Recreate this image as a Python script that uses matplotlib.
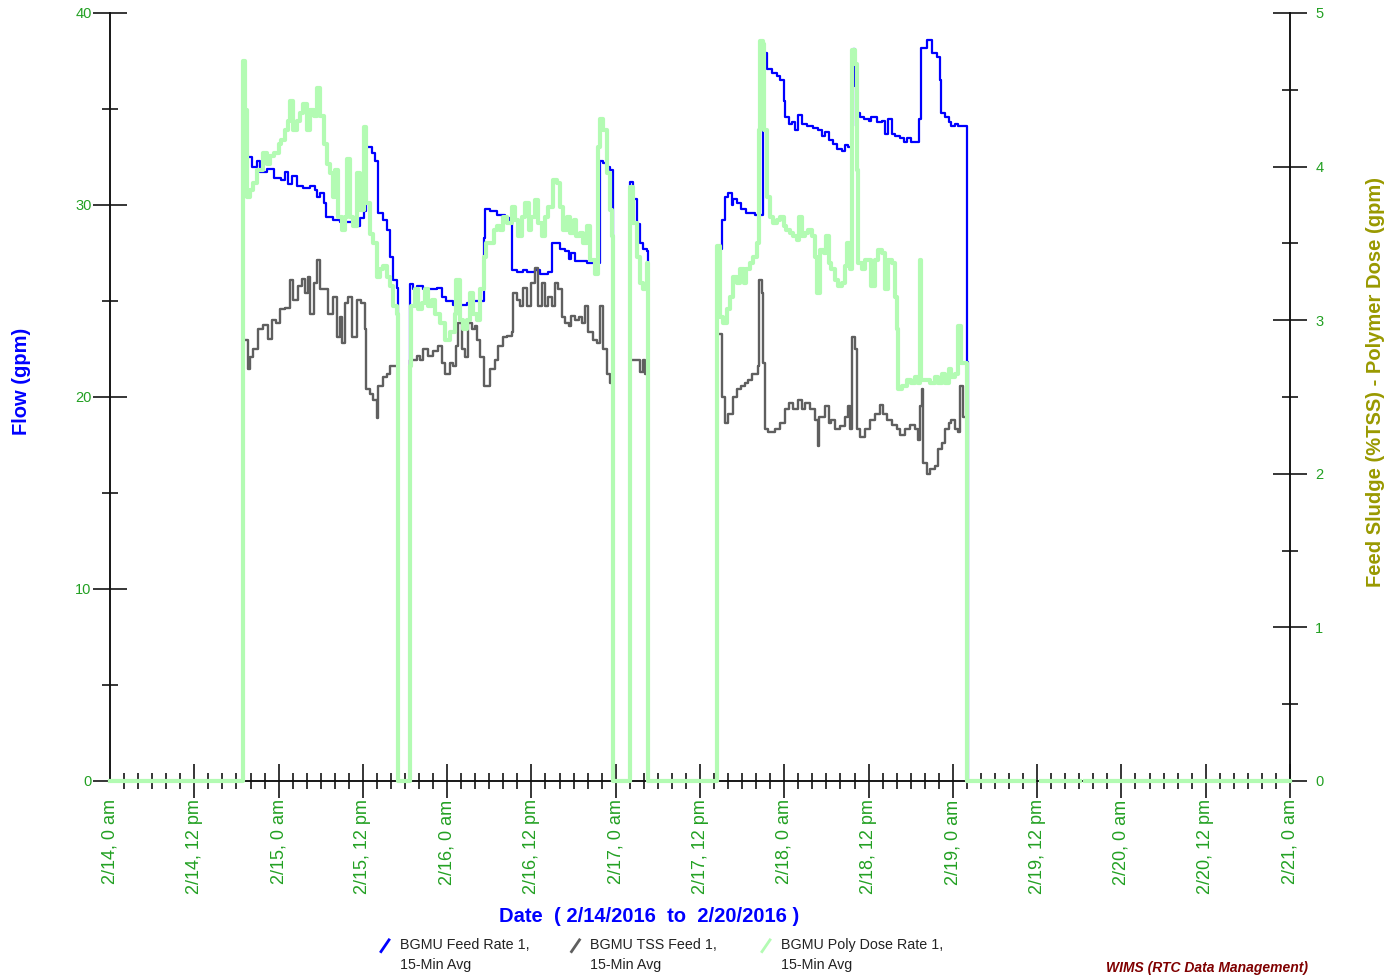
import matplotlib
matplotlib.use('Agg')
import matplotlib.pyplot as plt
from matplotlib.lines import Line2D
from matplotlib.ticker import MultipleLocator, FixedLocator

plt.rcParams['font.family'] = ['Liberation Sans', 'DejaVu Sans']

# time axis: hours since 2/14/2016 0:00 am
# BGMU Feed Rate 1 (gpm, left axis)
feed_t = [0, 19.0, 19.5, 20.2, 20.9, 21.4, 22.3, 23.3, 24.4, 24.9, 25.4, 25.9, 26.6, 27.5, 28.5,
          29.2, 29.4, 29.9, 30.4, 30.8, 31.8, 32.7, 33.7, 34.6, 35.6, 36.1, 36.5, 37.3, 37.7, 38.2,
          38.9, 39.4, 39.9, 40.3, 40.8, 41.0,
          42.7, 43.2, 43.7, 44.6, 45.6, 46.5, 47.2, 47.9, 48.9, 50.8, 51.7, 53.2, 53.4, 54.1, 55.1,
          56.2, 56.9, 57.2, 57.9, 58.8, 59.3, 60.5, 61.2, 62.4, 62.9, 63.6, 64.1, 64.8, 65.3, 65.7,
          66.2, 66.9, 67.9, 69.8, 70.2, 70.7, 71.2, 71.6,
          74.0, 74.5, 75.0, 75.4, 75.9, 76.4, 76.6,
          86.4, 87.1, 87.6, 88.0, 88.5, 88.7, 89.2, 89.9, 90.6, 91.8, 93.0, 93.5, 94.2, 94.9, 95.4,
          95.9, 96.1, 96.6, 97.1, 97.5, 98.0, 98.5, 99.2, 100.1, 100.8, 101.3, 101.8, 102.3, 103.0,
          103.5, 104.2, 104.6, 105.1, 105.6, 105.8, 106.0, 106.3, 106.8, 107.3, 108.0, 108.4, 109.2,
          109.9, 110.3, 110.8, 111.3, 111.8, 112.5, 113.0, 113.4, 114.1, 114.8, 115.2, 115.4, 116.3,
          117.0, 117.7, 118.1, 118.3, 118.9, 119.4, 119.8, 120.3, 120.8, 122.0, 122.1]
feed_v = [0, 32.5, 32.5, 32.0, 32.3, 31.7, 31.9, 31.4, 31.3, 31.7, 31.1, 31.5, 31.0, 30.9, 31.0,
          30.8, 30.4, 30.6, 30.1, 29.4, 29.2, 29.1, 29.1, 28.9, 29.3, 29.7, 33.0, 32.7, 32.3, 29.6,
          29.2, 28.7, 27.3, 26.1, 25.7, 0,
          25.9, 25.6, 25.8, 25.6, 25.6, 25.7, 25.2, 25.0, 24.8, 24.9, 25.0, 28.3, 29.8, 29.7, 29.5,
          29.3, 29.1, 26.6, 26.5, 26.6, 26.5, 26.6, 26.4, 26.5, 28.0, 28.0, 27.7, 27.6, 27.2, 27.5,
          27.1, 27.1, 27.0, 32.3, 32.2, 32.0, 31.8, 0,
          31.2, 30.3, 29.0, 28.0, 27.7, 27.6, 0,
          27.7, 29.2, 30.4, 30.6, 30.0, 30.3, 30.1, 29.8, 29.6, 29.5, 37.9, 37.1, 36.9, 36.7, 36.5,
          35.4, 34.6, 34.2, 34.3, 33.9, 34.7, 34.2, 34.1, 34.0, 33.9, 33.6, 33.8, 33.4, 33.2,
          32.9, 32.8, 33.1, 33.0, 34.1, 38.1, 36.2, 34.8, 34.6, 34.5, 34.4, 34.6, 34.3,
          34.4, 33.7, 34.5, 33.7, 33.6, 33.5, 33.3, 33.5, 33.3, 33.3, 34.5, 38.2, 38.6,
          37.9, 37.7, 36.5, 34.8, 34.6, 34.3, 34.1, 34.2, 34.1, 21.8, 0]

# BGMU TSS Feed 1 (% TSS, right axis)
tss_t = [0, 19.0, 19.7, 19.9, 20.4, 21.1, 21.8, 22.5, 23.0, 23.7, 24.2, 24.9, 25.6, 26.1, 26.8,
         27.3, 27.8, 28.2, 28.5, 29.0, 29.4, 29.9, 31.1, 31.8, 32.3, 32.7, 33.0, 33.5, 33.9, 34.4,
         35.1, 35.8, 36.3, 36.5, 37.0, 37.5, 38.0, 38.2, 38.9, 39.4, 39.9, 41.0,
         42.7, 43.7, 44.1, 44.6, 45.3, 46.0, 46.7, 47.2, 47.7, 48.4, 48.9, 49.3, 49.6, 50.1, 50.5,
         51.0, 51.5, 52.0, 52.2, 52.7, 53.2, 54.1, 54.8, 55.3, 56.0, 56.5, 57.2, 57.4, 57.9, 58.4,
         58.8, 59.3, 60.0, 60.5, 61.0, 61.5, 61.9, 62.4, 62.9, 63.4, 63.8, 64.3, 64.8, 65.3, 65.7,
         66.2, 66.7, 67.2, 67.6, 68.1, 68.8, 69.3, 69.8, 70.2, 70.7, 71.2, 71.6,
         74.0, 75.5, 75.9, 76.2, 76.6,
         86.4, 87.1, 87.6, 88.0, 88.7, 89.2, 89.9, 90.4, 90.9, 91.4, 92.3, 92.4, 92.8, 93.0, 93.3,
         93.7, 94.7, 95.4, 96.1, 96.6, 97.3, 98.0, 98.5, 98.9, 99.7, 100.4, 100.8, 101.0, 101.8,
         102.3, 102.7, 103.2, 103.9, 104.6, 105.1, 105.4, 105.7, 106.1, 106.3, 106.8, 107.5, 108.2,
         108.9, 109.6, 110.1, 110.6, 111.3, 112.0, 112.5, 113.2, 113.9, 114.6, 115.1, 115.3, 115.6,
         115.8, 116.3, 116.7, 117.5, 117.9, 118.4, 118.9, 119.4, 119.8, 120.3, 120.8, 121.0, 121.5,
         122.0]
tss_v = [0, 2.87, 2.68, 2.76, 2.81, 2.94, 2.97, 2.88, 3.00, 2.98, 3.07, 3.08, 3.26, 3.13, 3.22,
         3.27, 3.18, 3.28, 3.04, 3.24, 3.39, 3.20, 3.04, 3.15, 2.89, 3.02, 2.85, 3.11, 3.15, 2.89,
         3.13, 3.11, 2.94, 2.55, 2.52, 2.48, 2.36, 2.57, 2.63, 2.65, 2.70, 0,
         2.74, 2.77, 2.74, 2.81, 2.77, 2.80, 2.83, 2.72, 2.65, 2.72, 2.70, 2.83, 2.98, 2.81, 2.76,
         2.98, 2.94, 2.96, 2.87, 2.76, 2.57, 2.68, 2.74, 2.83, 2.89, 2.90, 2.92, 3.18, 3.13, 3.09,
         3.21, 3.09, 3.24, 3.34, 3.09, 3.24, 3.09, 3.15, 3.09, 3.24, 3.20, 3.02, 2.98, 2.96, 3.03,
         3.00, 3.02, 2.98, 3.09, 2.92, 2.87, 2.85, 3.09, 2.81, 2.65, 2.59, 0,
         2.74, 2.66, 2.74, 2.65, 0,
         2.91, 2.50, 2.33, 2.39, 2.50, 2.55, 2.57, 2.59, 2.61, 2.65, 2.70, 3.26, 3.18, 2.72, 2.29,
         2.27, 2.29, 2.33, 2.42, 2.46, 2.42, 2.48, 2.42, 2.46, 2.42, 2.35, 2.18, 2.37, 2.44,
         2.33, 2.35, 2.29, 2.31, 2.37, 2.44, 2.29, 2.89, 2.81, 2.29, 2.24, 2.29, 2.35,
         2.39, 2.45, 2.39, 2.35, 2.32, 2.29, 2.25, 2.29, 2.32, 2.29, 2.22, 2.44, 2.55,
         2.07, 2.00, 2.03, 2.05, 2.16, 2.20, 2.29, 2.33, 2.35, 2.29, 2.27, 2.57, 2.37,
         0]

# BGMU Poly Dose Rate 1 (gpm, right axis)
poly_t = [0, 19.0, 19.2, 19.5, 19.9, 20.4, 20.9, 21.8, 22.3, 22.8, 23.3, 24.0, 24.4, 24.9, 25.4,
          25.6, 26.1, 26.6, 27.1, 27.5, 28.0, 28.5, 29.0, 29.4, 29.9, 30.4, 30.9, 31.3, 31.8, 32.0,
          32.5, 33.0, 33.5, 33.7, 34.2, 34.6, 35.1, 35.6, 36.1, 36.5, 37.0, 37.5, 38.0, 38.4, 38.9,
          39.4, 39.9, 40.3, 40.8, 41.0,
          42.7, 42.9, 43.4, 43.9, 44.4, 44.8, 45.3, 45.8, 46.3, 47.0, 47.7, 48.4, 49.1, 49.3, 49.8,
          50.3, 50.8, 51.3, 51.7, 52.2, 52.7, 53.2, 53.6, 54.6, 55.1, 55.5, 56.0, 56.5, 57.2, 57.7,
          58.1, 58.6, 59.1, 59.6, 60.0, 60.5, 61.0, 61.5, 61.9, 62.4, 63.1, 63.6, 64.1, 64.5, 65.0,
          65.5, 66.0, 66.4, 66.9, 67.4, 67.9, 68.3, 69.1, 69.5, 69.8, 70.2, 70.7, 71.2, 71.4, 71.6,
          74.0, 74.5, 75.0, 75.5, 75.9, 76.4, 76.6,
          86.4, 86.8, 87.3, 87.8, 88.3, 88.7, 89.2, 89.7, 90.2, 90.6, 91.1, 91.6, 92.1, 92.4, 92.6,
          92.9, 93.1, 93.5, 94.0, 94.4, 94.9, 95.4, 95.9, 96.3, 96.8, 97.3, 97.8, 98.1, 98.5, 98.9,
          99.4, 99.9, 100.4, 100.7, 101.1, 101.6, 101.9, 102.3, 102.7, 103.2, 103.7, 104.2, 104.6,
          104.9, 105.3, 105.6, 105.7, 106.1, 106.3, 106.5, 107.0, 107.5, 108.4, 108.9, 109.4, 109.9,
          110.3, 110.8, 111.3, 111.8, 112.0, 112.2, 112.7, 113.4, 114.1, 114.6, 115.1, 115.3, 115.5,
          116.7, 117.5, 117.9, 118.4, 118.9, 119.4, 119.8, 120.3, 120.8, 121.1, 122.0,
          131.5, 132.6, 138.1, 138.8, 168.0]
poly_v = [0, 4.69, 4.37, 3.80, 3.85, 3.89, 3.98, 4.09, 4.02, 4.07, 4.09, 4.15, 4.17, 4.24, 4.30,
          4.43, 4.24, 4.30, 4.35, 4.41, 4.24, 4.37, 4.33, 4.51, 4.33, 4.15, 4.02, 3.96, 3.80, 3.98,
          3.67, 3.59, 3.67, 4.05, 3.67, 3.61, 3.96, 3.72, 4.26, 3.76, 3.56, 3.50, 3.28, 3.33, 3.35,
          3.28, 3.22, 3.09, 3.04, 0,
          2.70, 3.09, 3.20, 3.07, 3.11, 3.20, 3.09, 3.13, 3.04, 2.98, 2.87, 2.92, 3.04, 3.26, 3.00,
          2.94, 3.00, 3.18, 3.04, 3.00, 3.20, 3.41, 3.50, 3.59, 3.61, 3.59, 3.67, 3.63, 3.74, 3.65,
          3.55, 3.67, 3.76, 3.59, 3.67, 3.78, 3.63, 3.55, 3.67, 3.74, 3.91, 3.89, 3.74, 3.59, 3.67,
          3.57, 3.65, 3.55, 3.57, 3.50, 3.61, 3.39, 3.30, 4.13, 4.31, 4.24, 3.96, 3.72, 3.55, 0,
          3.87, 3.63, 3.41, 3.24, 3.20, 3.37, 0,
          3.48, 3.02, 2.98, 3.07, 3.15, 3.28, 3.24, 3.33, 3.24, 3.33, 3.37, 3.41, 3.50, 4.24, 4.82,
          4.80, 4.24, 3.80, 3.67, 3.63, 3.65, 3.67, 3.61, 3.59, 3.57, 3.55, 3.52, 3.67, 3.55, 3.57,
          3.59, 3.55, 3.41, 3.18, 3.46, 3.44, 3.55, 3.37, 3.33, 3.26, 3.22, 3.24, 3.35,
          3.50, 3.33, 3.98, 4.76, 4.67, 3.98, 3.37, 3.33, 3.39, 3.22, 3.39, 3.46, 3.44,
          3.20, 3.39, 3.37, 3.15, 2.94, 2.55, 2.57, 2.61, 2.59, 2.63, 2.59, 3.39, 2.61,
          2.59, 2.63, 2.59, 2.65, 2.59, 2.68, 2.63, 2.65, 2.96, 2.72, 0,
          float('nan'), 0, float('nan'), 0, 0]

tick_hours = [0, 12, 24, 36, 48, 60, 72, 84, 96, 108, 120, 132, 144, 156, 168]
tick_labels = ['2/14, 0 am', '2/14, 12 pm', '2/15, 0 am', '2/15, 12 pm', '2/16, 0 am',
               '2/16, 12 pm', '2/17, 0 am', '2/17, 12 pm', '2/18, 0 am', '2/18, 12 pm',
               '2/19, 0 am', '2/19, 12 pm', '2/20, 0 am', '2/20, 12 pm', '2/21, 0 am']

series_names = ['BGMU Feed Rate 1,', 'BGMU TSS Feed 1,', 'BGMU Poly Dose Rate 1,']
blue = '#0000ff'
gray = '#5f5f5f'
green = '#b3fbb3'
label_green = '#22a022'

fig = plt.figure(figsize=(13.91, 9.76), dpi=100)
ax = fig.add_axes([0.0791, 0.1998, 0.8483, 0.7869])
ax2 = ax.twinx()

ax.plot(feed_t, feed_v, color=blue, lw=1.6, drawstyle='steps-post', clip_on=False, zorder=3)
ax2.plot(tss_t, tss_v, color=gray, lw=1.7, drawstyle='steps-post', clip_on=False, zorder=3)
ax2.plot(poly_t, poly_v, color=green, lw=3.0, drawstyle='steps-post', clip_on=False, zorder=4)

ax.set_xlim(0, 168)
ax.set_ylim(0, 40)
ax2.set_ylim(0, 5)

for a in (ax, ax2):
    a.spines['top'].set_visible(False)
    for s in ('left', 'right', 'bottom'):
        a.spines[s].set_color('#111111')
        a.spines[s].set_linewidth(1.1)

ax.xaxis.set_major_locator(FixedLocator(tick_hours))
ax.xaxis.set_minor_locator(MultipleLocator(2))
ax.set_xticklabels(tick_labels, rotation=90, fontsize=13, color=label_green)
ax.tick_params(axis='x', which='major', direction='inout', length=24.5, width=1.1, pad=1)
ax.tick_params(axis='x', which='minor', direction='inout', length=12, width=1.1)

ax.yaxis.set_major_locator(MultipleLocator(10))
ax.yaxis.set_minor_locator(MultipleLocator(5))
ax.tick_params(axis='y', which='major', direction='inout', length=24.5, width=1.1,
               labelsize=10.5, labelcolor=label_green, pad=1)
ax.tick_params(axis='y', which='minor', direction='inout', length=12, width=1.1)

ax2.yaxis.set_major_locator(MultipleLocator(1))
ax2.yaxis.set_minor_locator(MultipleLocator(0.5))
ax2.tick_params(axis='y', which='major', direction='inout', length=24.5, width=1.1,
                labelsize=10.5, labelcolor=label_green, pad=6)
ax2.tick_params(axis='y', which='minor', direction='inout', length=12, width=1.1)

# no tick marks at the origin
ax.yaxis.get_major_ticks()[0].tick1line.set_visible(False)
ax2.yaxis.get_major_ticks()[0].tick2line.set_visible(False)
ax.xaxis.get_major_ticks()[0].tick1line.set_visible(False)

fig.text(0.0158, 0.6096, 'Flow (gpm)', rotation=90, color=blue, fontsize=14.5,
         fontweight='bold', ha='center', va='center')
fig.text(0.989, 0.609, 'Feed Sludge (%TSS) - Polymer Dose (gpm)', rotation=90, color='#999900',
         fontsize=14.5, fontweight='bold', ha='center', va='center')
fig.text(0.467, 0.0605, 'Date  ( 2/14/2016  to  2/20/2016 )', color=blue, fontsize=14.5,
         fontweight='bold', ha='center', va='center')

# legend along the bottom
for i, (name, col) in enumerate(zip(series_names, [blue, gray, green])):
    x0 = (381 + i * 190.5) / 1391
    fig.add_artist(Line2D([x0, x0 + 8 / 1391], [0.025, 0.037], color=col, lw=2,
                          transform=fig.transFigure))
    xt = x0 + 19 / 1391
    fig.text(xt, 0.0318, name, fontsize=10.3, color='#222222', ha='left', va='center')
    fig.text(xt, 0.0113, '15-Min Avg', fontsize=10.3, color='#222222', ha='left', va='center')

# watermark in the lower right corner
fig.text(1106 / 1391, 0.001, 'WIMS (RTC Data Management)', color='#800000', fontsize=10,
         fontweight='bold', fontstyle='italic', ha='left', va='bottom')

fig.savefig('out.png', dpi=100)
